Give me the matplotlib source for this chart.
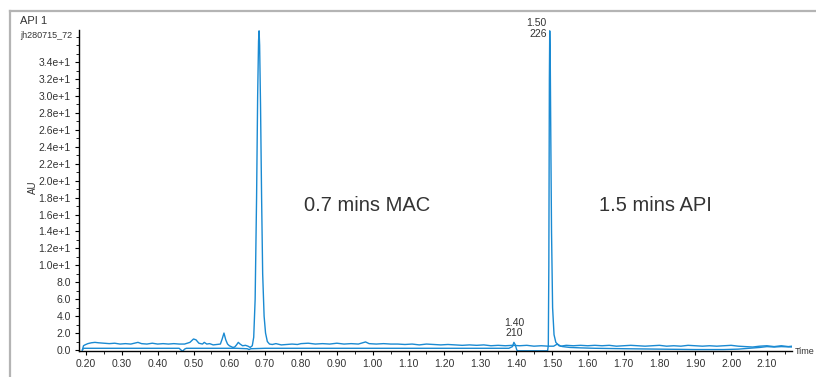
import numpy as np
import matplotlib
matplotlib.use("Agg")
import matplotlib.pyplot as plt
from matplotlib.ticker import MultipleLocator, FuncFormatter
from matplotlib.lines import Line2D

plt.rcParams['font.family'] = ['Liberation Sans', 'DejaVu Sans']

# trace 1 (upper baseline, MAC peak at 0.68)
t1 = [0.190, 0.193, 0.197, 0.205, 0.215, 0.225, 0.235, 0.250, 0.265, 0.280, 0.295, 0.310,
      0.325, 0.345, 0.355, 0.370, 0.385, 0.400, 0.415, 0.430, 0.445, 0.460, 0.475, 0.490,
      0.500, 0.507, 0.515, 0.525, 0.530, 0.537, 0.545, 0.555, 0.565, 0.575, 0.580, 0.585,
      0.590, 0.595, 0.600, 0.610, 0.615, 0.620, 0.625, 0.630, 0.637, 0.645, 0.652, 0.658,
      0.664, 0.668, 0.672, 0.676, 0.679, 0.6815, 0.683, 0.6845, 0.687, 0.690, 0.693, 0.697,
      0.701, 0.706, 0.712, 0.720, 0.730, 0.745, 0.760, 0.775, 0.790, 0.800, 0.820, 0.840,
      0.860, 0.880, 0.900, 0.920, 0.940, 0.960, 0.980, 0.990, 1.010, 1.030, 1.050, 1.070,
      1.090, 1.110, 1.130, 1.150, 1.170, 1.190, 1.210, 1.230, 1.250, 1.270, 1.290, 1.310,
      1.330, 1.350, 1.370, 1.390, 1.410, 1.430, 1.450, 1.470, 1.490, 1.505, 1.515, 1.525,
      1.540, 1.560, 1.580, 1.600, 1.620, 1.640, 1.660, 1.680, 1.700, 1.720, 1.740, 1.760,
      1.780, 1.800, 1.820, 1.840, 1.860, 1.880, 1.900, 1.920, 1.940, 1.960, 1.980, 2.000,
      2.020, 2.040, 2.060, 2.080, 2.100, 2.120, 2.140, 2.160, 2.170]
au1 = [0.0, 0.5, 0.6, 0.75, 0.85, 0.9, 0.85, 0.8, 0.75, 0.8, 0.7, 0.75,
       0.7, 0.9, 0.75, 0.7, 0.8, 0.7, 0.75, 0.7, 0.75, 0.7, 0.7, 0.9,
       1.3, 1.2, 0.8, 0.7, 0.9, 0.7, 0.75, 0.6, 0.65, 0.7, 1.3, 2.0,
       1.2, 0.7, 0.5, 0.3, 0.35, 0.6, 0.9, 0.7, 0.5, 0.55, 0.45, 0.3,
       0.5, 1.5, 6.0, 18.0, 30.0, 36.5, 37.7, 36.0, 29.0, 18.0, 9.0, 4.0,
       2.0, 1.0, 0.7, 0.65, 0.75, 0.6, 0.65, 0.7, 0.65, 0.75, 0.8, 0.7,
       0.75, 0.7, 0.8, 0.7, 0.75, 0.7, 0.95, 0.75, 0.7, 0.75, 0.7, 0.7,
       0.65, 0.7, 0.6, 0.7, 0.65, 0.6, 0.65, 0.6, 0.55, 0.6, 0.55, 0.6,
       0.5, 0.55, 0.5, 0.55, 0.5, 0.55, 0.45, 0.5, 0.45, 0.45, 0.7, 0.45,
       0.55, 0.5, 0.55, 0.5, 0.55, 0.5, 0.55, 0.45, 0.5, 0.55, 0.5, 0.45,
       0.5, 0.55, 0.45, 0.5, 0.45, 0.55, 0.5, 0.45, 0.5, 0.45, 0.5, 0.55,
       0.45, 0.4, 0.35, 0.45, 0.5, 0.4, 0.5, 0.4, 0.45]

# trace 2 (lower baseline, API peak at 1.50)
t2 = [0.190, 0.193, 0.220, 0.300, 0.400, 0.460, 0.465, 0.470, 0.475, 0.480, 0.550, 0.620,
      0.650, 0.655, 0.660, 0.700, 0.800, 0.900, 1.000, 1.100, 1.200, 1.300, 1.380, 1.390,
      1.394, 1.398, 1.402, 1.405, 1.450, 1.488, 1.490, 1.4915, 1.493, 1.494, 1.4955, 1.497,
      1.499, 1.502, 1.506, 1.511, 1.520, 1.530, 1.550, 1.580, 1.620, 1.700, 1.800, 1.900,
      1.980, 2.020, 2.050, 2.080, 2.100, 2.120, 2.140, 2.170]
au2 = [0.0, 0.2, 0.2, 0.2, 0.2, 0.2, 0.0, -0.15, 0.1, 0.2, 0.2, 0.2,
       0.15, 0.05, 0.15, 0.2, 0.2, 0.2, 0.2, 0.2, 0.2, 0.2, 0.2, 0.4,
       0.9, 0.6, 0.0, -0.1, -0.1, -0.1, 0.5, 10.0, 32.0, 37.7, 34.0, 25.0,
       14.0, 5.0, 1.8, 0.9, 0.5, 0.4, 0.3, 0.25, 0.2, 0.15, 0.1, 0.05,
       0.05, 0.1, 0.2, 0.3, 0.4, 0.35, 0.4, 0.35]

yticks = [0, 2, 4, 6, 8, 10, 12, 14, 16, 18, 20, 22, 24, 26, 28, 30, 32, 34]
xticks = [0.2, 0.3, 0.4, 0.5, 0.6, 0.7, 0.8, 0.9, 1.0, 1.1, 1.2, 1.3, 1.4, 1.5,
          1.6, 1.7, 1.8, 1.9, 2.0, 2.1]

blue = '#1a8ad2'
grey = '#333333'

fig = plt.figure(figsize=(8.16, 3.77), dpi=100)
ax = fig.add_axes([79/816, 1 - 351/377, (792 - 79)/816, (351 - 30)/377])

ax.plot(t1, au1, color=blue, lw=1.0)
ax.plot(t2, au2, color=blue, lw=1.0)

ax.set_xlim(0.1805, 2.170)
ax.set_ylim(-0.12, 37.8)

ax.set_xticks(xticks)
ax.set_xticklabels([f'{x:.2f}' for x in xticks])
ax.xaxis.set_minor_locator(MultipleLocator(0.05))
ax.set_yticks(yticks)
ax.yaxis.set_major_formatter(FuncFormatter(lambda v, p: f'{v:.1f}' if v < 10 else f'{v/10:.1f}e+1'))
ax.yaxis.set_minor_locator(MultipleLocator(1))
ax.tick_params(which='major', direction='out', length=3, width=0.8, labelsize=7.5, labelcolor=grey, pad=3)
ax.tick_params(which='minor', direction='out', length=2, width=0.6)

for s in ['top', 'right']:
    ax.spines[s].set_visible(False)
for s in ['left', 'bottom']:
    ax.spines[s].set_linewidth(1.0)

# labels
ax.text(0.984, 17.1, '0.7 mins MAC', fontsize=14.5, color=grey, ha='center', va='center')
ax.text(1.79, 17.1, '1.5 mins API', fontsize=14.5, color=grey, ha='center', va='center')
ax.text(1.486, 38.0, '1.50\n226', fontsize=7.5, color=grey, ha='right', va='center',
        linespacing=1.05, clip_on=False)
ax.text(1.394, 2.6, '1.40\n210', fontsize=7.5, color=grey, ha='center', va='center',
        linespacing=1.05)
ax.text(1.004, 0.0, 'Time', transform=ax.transAxes, fontsize=6.5, color=grey,
        ha='left', va='center')

fig.text(20/816, 1 - 21/377, 'API 1', fontsize=8, color=grey, ha='left', va='center')
fig.text(20/816, 1 - 36/377, 'jh280715_72', fontsize=6.5, color=grey, ha='left', va='center')
fig.text(33/816, 1 - 187/377, 'AU', fontsize=7, color=grey, ha='center', va='center', rotation=90)

# outer frame (top and left edges visible)
fig.add_artist(Line2D([10/816, 10/816], [0, 1 - 11/377], transform=fig.transFigure,
                      color='#b4b4b4', lw=1.6))
fig.add_artist(Line2D([10/816, 1], [1 - 11/377, 1 - 11/377], transform=fig.transFigure,
                      color='#b4b4b4', lw=1.6))

fig.savefig('out.png', dpi=100)
